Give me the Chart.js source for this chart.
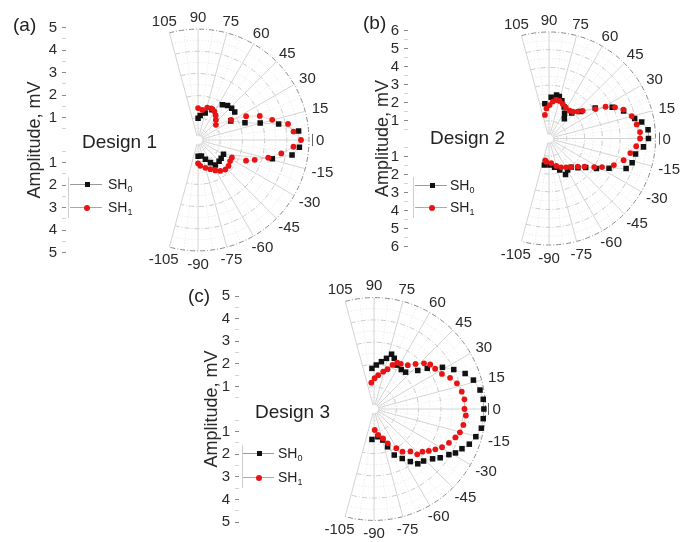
<!DOCTYPE html>
<html>
<head>
<meta charset="utf-8">
<script src="https://cdn.jsdelivr.net/npm/chart.js@4.4.1/dist/chart.umd.min.js"></script>
<style>
  body { margin: 0; background: #fff; width: 699px; height: 542px; position: relative; overflow: hidden;
         font-family: "Liberation Sans", Arial, sans-serif; color: #222; }
  canvas { position: absolute; }
  .tag, .design { position: absolute; font-size: 19px; line-height: 19px; white-space: nowrap; }
  .lg-line { position: absolute; height: 1px; }
  .lg-vline { position: absolute; width: 1px; background: #cfcfcf; }
  .lg-sq { position: absolute; width: 5px; height: 5px; background: #111; }
  .lg-dot { position: absolute; width: 6px; height: 6px; border-radius: 50%; background: #e81414; }
  .lg-txt { position: absolute; font-size: 14px; line-height: 14px; white-space: nowrap; }
  .lg-txt sub { font-size: 9px; vertical-align: -3px; }
</style>
</head>
<body>
<canvas id="cA" width="345" height="278" style="left:0px; top:0px"></canvas>
<canvas id="cB" width="349" height="278" style="left:350px; top:0px"></canvas>
<canvas id="cC" width="340" height="272" style="left:180px; top:270px"></canvas>

<div class="tag" style="left:13px; top:15px">(a)</div>
<div class="tag" style="left:363px; top:13px">(b)</div>
<div class="tag" style="left:188px; top:286px">(c)</div>
<div class="design" style="left:82px; top:132px">Design 1</div>
<div class="design" style="left:430px; top:128px">Design 2</div>
<div class="design" style="left:255px; top:402px">Design 3</div>

<script>
// angle ticks of the half polar plots (degrees)
var angleTicks = [-105, -90, -75, -60, -45, -30, -15, 0, 15, 30, 45, 60, 75, 90, 105];
var seriesNames = ['SH', 'SH'];
var seriesSubs = ['0', '1'];

// Design 1 : angle (deg) / amplitude (mV)
var angA0 = [90, 85, 75, 65, 55, 49, 43, 37, 30, 20, 15, 11, 5, -4, -9, -14, -29, -38, -45, -55, -61, -69, -78, -90];
var ampA0 = [0.97, 1.09, 1.24, 1.48, 1.91, 2.03, 2.07, 2.07, 1.7, 2.25, 2.9, 3.7, 4.55, 4.58, 4.29, 3.45, 1.31, 1.32, 1.34, 1.36, 1.15, 0.92, 0.73, 0.72];
var angA1 = [90, 82, 74, 67, 60, 54, 48, 40, 31, 26, 21, 15, 10, 5, 0, -4, -9, -14, -19, -23, -27, -33, -40, -47, -54, -60, -67, -75, -85, -90];
var ampA1 = [1.42, 1.35, 1.5, 1.53, 1.47, 1.35, 1.2, 1.05, 1.73, 2.41, 2.98, 3.46, 4.12, 4.32, 4.64, 4.31, 3.8, 3.26, 2.7, 2.35, 1.71, 1.72, 1.79, 1.8, 1.7, 1.56, 1.41, 1.28, 1.15, 1.04];

// Design 2
var angB0 = [97, 87, 80, 76, 71, 64, 58, 52, 48, 40, 33, 26, 20, 13, 10, 5, 0, -5, -10, -16, -21, -26, -32, -38, -45, -52, -59, -65, -71, -79, -88, -100];
var ampB0 = [1.94, 2.29, 2.45, 2.4, 2.22, 1.95, 1.65, 1.4, 1.91, 2.33, 3.1, 3.96, 4.47, 4.95, 5.3, 5.6, 5.6, 5.34, 4.95, 4.87, 4.65, 3.76, 3.15, 2.62, 2.3, 2.02, 2.04, 2.2, 1.85, 1.63, 1.47, 1.5];
var angB1 = [100, 95, 89, 84, 79, 74, 68, 61, 53, 48, 43, 39, 32, 29, 25, 21, 15, 9, 4, 0, -5, -10, -16, -22, -28, -32, -38, -44, -52, -59, -67, -75, -85, -97, -100];
var ampB1 = [1.33, 1.68, 1.86, 2.06, 2.18, 2.17, 2.07, 1.96, 1.93, 2.0, 2.19, 2.44, 3.09, 3.64, 4.1, 4.49, 4.82, 5.0, 5.14, 5.13, 4.93, 4.65, 4.37, 3.94, 3.38, 3.0, 2.53, 2.25, 2.02, 1.87, 1.74, 1.58, 1.38, 1.3, 1.24];

// Design 3
var angC0 = [93, 87, 81, 76, 72, 68, 62, 55, 49, 41, 37, 31, 26, 21, 16, 10, 5, 0, -5, -10, -15, -20, -24, -28, -31, -36, -40, -46, -51, -55, -60, -66, -70, -74, -82, -94];
var ampC0 = [1.8, 1.95, 2.12, 2.31, 2.55, 2.42, 2.2, 2.13, 2.16, 2.6, 2.99, 3.58, 3.98, 4.38, 4.64, 4.83, 4.92, 4.93, 4.92, 4.89, 4.73, 4.55, 4.32, 4.14, 3.92, 3.67, 3.43, 3.2, 3.12, 2.84, 2.53, 2.23, 1.78, 1.43, 1.24, 1.35];
var angC1 = [96, 89, 83, 76, 71, 67, 63, 59, 52, 47, 42, 38, 33, 27, 22, 17, 11, 6, 0, -4, -10, -15, -19, -24, -29, -33, -37, -41, -46, -49, -56, -60, -68, -73, -81, -88];
var ampC1 = [1.17, 1.36, 1.51, 1.7, 1.86, 2.12, 2.3, 2.33, 2.46, 2.73, 3.02, 3.2, 3.27, 3.42, 3.68, 3.89, 4.01, 4.08, 4.06, 4.13, 4.07, 3.99, 3.86, 3.68, 3.49, 3.28, 3.08, 2.88, 2.79, 2.49, 2.28, 2.0, 1.64, 1.36, 1.16, 0.93];

var FONT = '"Liberation Sans", Arial, sans-serif';
Chart.defaults.font.family = FONT;

// panel geometry (canvas-local pixels)
var panels = [
  { id: 'cA', w: 345, h: 278, cx: 200, cy: 140, k: 22.5, rMax: 5, axisX: 66, titleX: 35,
    ang0: angA0, amp0: ampA0, ang1: angA1, amp1: ampA1 },
  { id: 'cB', w: 349, h: 278, cx: 201, cy: 138.5, k: 18, rMax: 6, axisX: 58, titleX: 33,
    ang0: angB0, amp0: ampB0, ang1: angB1, amp1: ampB1 },
  { id: 'cC', w: 340, h: 272, cx: 196, cy: 139, k: 22.6, rMax: 5, axisX: 59, titleX: 32,
    ang0: angC0, amp0: ampC0, ang1: angC1, amp1: ampC1 }
];

// legend placement (page pixels)
var legends = [
  { lineX: 70, lineW: 32, markX: 87, textX: 108, y0: 184, y1: 207, vx: 68, vTop: 177, vBot: 218 },
  { lineX: 415, lineW: 32, markX: 432, textX: 450, y0: 185, y1: 207, vx: 413, vTop: 177, vBot: 218 },
  { lineX: 243, lineW: 31, markX: 259, textX: 278, y0: 453, y1: 477, vx: 242, vTop: 445, vBot: 488 }
];

function toXY(angs, amps) {
  return angs.map(function (a, i) {
    var t = a * Math.PI / 180;
    return { x: amps[i] * Math.cos(t), y: amps[i] * Math.sin(t) };
  });
}

var D = Math.PI / 180;

var polarGrid = {
  id: 'polarGrid',
  beforeDatasetsDraw: function (chart, args, opts) {
    var ctx = chart.ctx, x = chart.scales.x, y = chart.scales.y;
    var cx = x.getPixelForValue(0), cy = y.getPixelForValue(0);
    var k = x.getPixelForValue(1) - cx;
    var R = opts.rMax * k;
    ctx.save();
    ctx.lineWidth = 1;
    // minor spokes
    ctx.strokeStyle = '#e8e8e8';
    ctx.setLineDash([1, 2]);
    for (var a = -97.5; a <= 97.5; a += 15) {
      ctx.beginPath();
      ctx.moveTo(cx + 5 * Math.cos(a * D), cy - 5 * Math.sin(a * D));
      ctx.lineTo(cx + R * Math.cos(a * D), cy - R * Math.sin(a * D));
      ctx.stroke();
    }
    // rings
    for (var r = 0.5; r <= opts.rMax + 1e-6; r += 0.5) {
      var major = Math.abs(r - Math.round(r)) < 1e-6;
      var outer = Math.abs(r - opts.rMax) < 1e-6;
      ctx.setLineDash(major ? [5, 2, 1, 2] : [1, 2]);
      ctx.strokeStyle = outer ? '#8a8a8a' : (major ? '#cacaca' : '#e2e2e2');
      ctx.beginPath();
      ctx.arc(cx, cy, r * k, -105 * D, 105 * D);
      ctx.stroke();
    }
    // major spokes
    ctx.setLineDash([]);
    ctx.strokeStyle = '#d4d4d4';
    angleTicks.forEach(function (a) {
      ctx.beginPath();
      ctx.moveTo(cx + 4 * Math.cos(a * D), cy - 4 * Math.sin(a * D));
      ctx.lineTo(cx + R * Math.cos(a * D), cy - R * Math.sin(a * D));
      ctx.stroke();
    });
    ctx.restore();
  },
  afterDatasetsDraw: function (chart, args, opts) {
    var ctx = chart.ctx, x = chart.scales.x, y = chart.scales.y;
    var cx = x.getPixelForValue(0), cy = y.getPixelForValue(0);
    var k = x.getPixelForValue(1) - cx;
    var R = opts.rMax * k;
    ctx.save();
    ctx.font = '15px ' + FONT;
    ctx.fillStyle = '#2a2a2a';
    ctx.textAlign = 'center';
    ctx.textBaseline = 'middle';
    angleTicks.forEach(function (a) {
      var t = String(a);
      var w = ctx.measureText(t).width, h = 11;
      var c = Math.cos(a * D), s = Math.sin(a * D);
      var px = cx + (R + 7) * c + (w / 2) * c;
      var py = cy - (R + 7) * s - (h / 2) * s;
      ctx.fillText(t, px, py + 1);
    });
    // tick at 0 deg
    ctx.strokeStyle = '#666';
    ctx.lineWidth = 1;
    ctx.beginPath();
    ctx.moveTo(Math.round(cx + R + 3) + 0.5, cy - 6);
    ctx.lineTo(Math.round(cx + R + 3) + 0.5, cy + 6);
    ctx.stroke();
    ctx.restore();
  }
};

panels.forEach(function (p) {
  var R = p.rMax * p.k;
  new Chart(document.getElementById(p.id), {
    type: 'scatter',
    data: {
      datasets: [
        { label: 'SH1', data: toXY(p.ang1, p.amp1), showLine: true,
          borderColor: 'rgba(235,95,95,0.25)', borderWidth: 1,
          pointStyle: 'circle', pointRadius: 2.9, pointBorderWidth: 0,
          pointBackgroundColor: '#e81414' },
        { label: 'SH0', data: toXY(p.ang0, p.amp0), showLine: true,
          borderColor: 'rgba(90,90,90,0.22)', borderWidth: 1,
          pointStyle: 'rect', pointRadius: 3.9, pointBorderWidth: 0,
          pointBackgroundColor: '#111' }
      ]
    },
    options: {
      responsive: false,
      animation: false,
      layout: { padding: { top: p.cy - R, bottom: p.h - (p.cy + R), left: 0, right: 0 } },
      plugins: {
        legend: { display: false },
        tooltip: { enabled: false },
        polarGrid: { rMax: p.rMax }
      },
      scales: {
        x: { type: 'linear', display: false, min: -(p.cx - p.axisX) / p.k, max: (p.w - p.cx) / p.k },
        y: {
          type: 'linear', min: -p.rMax, max: p.rMax,
          afterFit: function (s) { s.width = p.axisX; },
          border: { display: false },
          grid: {
            drawOnChartArea: false, tickLength: 4,
            tickColor: function (c) {
              var v = c.tick.value;
              if (v === 0) return 'rgba(0,0,0,0)';
              return Number.isInteger(v) ? '#8a8a8a' : '#d4d4d4';
            }
          },
          ticks: {
            stepSize: 0.5, autoSkip: false, padding: 5, color: '#2a2a2a',
            font: { size: 15 },
            callback: function (v) { return (Number.isInteger(v) && v !== 0) ? String(Math.abs(v)) : ''; }
          },
          title: {
            display: true, text: 'Amplitude, mV', color: '#2a2a2a',
            font: { size: 18 }, padding: { top: p.titleX - 10.8, bottom: 0 }
          }
        }
      }
    },
    plugins: [polarGrid]
  });
});

// legends
legends.forEach(function (L) {
  var rows = [L.y0, L.y1];
  var v = document.createElement('div');
  v.className = 'lg-vline';
  v.style.left = L.vx + 'px'; v.style.top = L.vTop + 'px'; v.style.height = (L.vBot - L.vTop) + 'px';
  document.body.appendChild(v);
  rows.forEach(function (yy, i) {
    var ln = document.createElement('div');
    ln.className = 'lg-line';
    ln.style.left = L.lineX + 'px'; ln.style.top = yy + 'px'; ln.style.width = L.lineW + 'px';
    ln.style.background = i === 0 ? '#9a9a9a' : '#f08c8c';
    document.body.appendChild(ln);
    var mk = document.createElement('div');
    mk.className = i === 0 ? 'lg-sq' : 'lg-dot';
    var sz = i === 0 ? 5 : 6;
    mk.style.left = (L.markX - sz / 2) + 'px'; mk.style.top = (yy + 0.5 - sz / 2) + 'px';
    document.body.appendChild(mk);
    var tx = document.createElement('div');
    tx.className = 'lg-txt';
    tx.style.left = L.textX + 'px'; tx.style.top = (yy - 7) + 'px';
    tx.innerHTML = seriesNames[i] + '<sub>' + seriesSubs[i] + '</sub>';
    document.body.appendChild(tx);
  });
});
</script>
</body>
</html>
